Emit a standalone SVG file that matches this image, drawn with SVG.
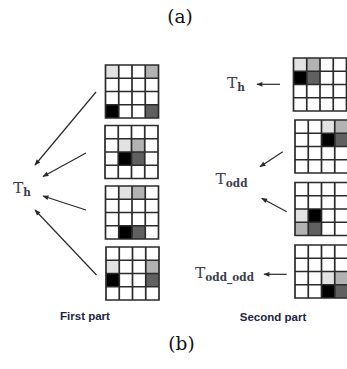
<svg xmlns="http://www.w3.org/2000/svg" xmlns:xlink="http://www.w3.org/1999/xlink" width="347" height="369" viewBox="0 0 347 369">
  <style>
    .caption { font-family: "DejaVu Serif", "Liberation Serif", serif; font-size: 18.5px; fill: #111; text-anchor: middle; }
    .sym { font-family: "DejaVu Serif", "Liberation Serif", serif; font-size: 15.5px; fill: #3d3d4d; }
    .sub { font-size: 10.5px; font-weight: bold; }
    .part { font-family: "Liberation Sans", Arial, sans-serif; font-size: 11.5px; font-weight: bold; fill: #1c2642; text-anchor: middle; }
    .arrow { stroke: #2a2a2a; stroke-width: 1.2; fill: none; marker-end: url(#head); }
    .lt { fill: #e2e2e2; }
    .md { fill: #b2b2b2; }
    .dk { fill: #606060; }
    .bk { fill: #000; }
    .lines { fill: none; stroke: #2b2b2b; stroke-width: 1.7; }
  </style>
  <defs>
    <marker id="head" viewBox="0 0 10 10" refX="9" refY="5" markerWidth="7" markerHeight="6" orient="auto" markerUnits="userSpaceOnUse">
      <path d="M0,1 L10,5 L0,9 Z" fill="#2a2a2a"/>
    </marker>
    <!-- 4x4 block outline, 13.25 px cells -->
    <path id="gridlines" class="lines" d="M0,0 H53 V53 H0 Z M13.25,0 V53 M26.5,0 V53 M39.75,0 V53 M0,13.25 H53 M0,26.5 H53 M0,39.75 H53"/>
  </defs>

  <rect width="347" height="369" fill="#fff"/>

  <text class="caption" x="180" y="23">(a)</text>
  <text class="caption" x="181.5" y="350">(b)</text>

  <!-- first part: blocks -->
  <g id="block-l1" transform="translate(105.5,65)">
    <rect class="lt" x="0" y="0" width="13.25" height="13.25"/>
    <rect class="md" x="39.75" y="0" width="13.25" height="13.25"/>
    <rect class="bk" x="0" y="39.75" width="13.25" height="13.25"/>
    <rect class="dk" x="39.75" y="39.75" width="13.25" height="13.25"/>
    <use xlink:href="#gridlines"/>
  </g>
  <g id="block-l2" transform="translate(105,125.5)">
    <rect class="lt" x="13.25" y="13.25" width="13.25" height="13.25"/>
    <rect class="md" x="26.5" y="13.25" width="13.25" height="13.25"/>
    <rect class="bk" x="13.25" y="26.5" width="13.25" height="13.25"/>
    <rect class="dk" x="26.5" y="26.5" width="13.25" height="13.25"/>
    <use xlink:href="#gridlines"/>
  </g>
  <g id="block-l3" transform="translate(105.5,186)">
    <rect class="lt" x="13.25" y="0" width="13.25" height="13.25"/>
    <rect class="md" x="26.5" y="0" width="13.25" height="13.25"/>
    <rect class="bk" x="13.25" y="39.75" width="13.25" height="13.25"/>
    <rect class="dk" x="26.5" y="39.75" width="13.25" height="13.25"/>
    <use xlink:href="#gridlines"/>
  </g>
  <g id="block-l4" transform="translate(106,247)">
    <rect class="lt" x="0" y="13.25" width="13.25" height="13.25"/>
    <rect class="md" x="39.75" y="13.25" width="13.25" height="13.25"/>
    <rect class="bk" x="0" y="26.5" width="13.25" height="13.25"/>
    <rect class="dk" x="39.75" y="26.5" width="13.25" height="13.25"/>
    <use xlink:href="#gridlines"/>
  </g>

  <g id="label-th-left">
    <text class="sym" x="13" y="193">T<tspan class="sub" dy="3">h</tspan></text>
  </g>
  <g id="label-first">
    <text class="part" x="85" y="320">First part</text>
  </g>

  <!-- second part: blocks -->
  <g id="block-r1" transform="translate(293.5,58)">
    <rect class="lt" x="0" y="0" width="13.25" height="13.25"/>
    <rect class="md" x="13.25" y="0" width="13.25" height="13.25"/>
    <rect class="bk" x="0" y="13.25" width="13.25" height="13.25"/>
    <rect class="dk" x="13.25" y="13.25" width="13.25" height="13.25"/>
    <use xlink:href="#gridlines"/>
  </g>
  <g id="block-r2" transform="translate(295,120)">
    <rect class="lt" x="26.5" y="0" width="13.25" height="13.25"/>
    <rect class="md" x="39.75" y="0" width="13.25" height="13.25"/>
    <rect class="bk" x="26.5" y="13.25" width="13.25" height="13.25"/>
    <rect class="dk" x="39.75" y="13.25" width="13.25" height="13.25"/>
    <use xlink:href="#gridlines"/>
  </g>
  <g id="block-r3" transform="translate(295,182.5)">
    <rect class="lt" x="0" y="26.5" width="13.25" height="13.25"/>
    <rect class="bk" x="13.25" y="26.5" width="13.25" height="13.25"/>
    <rect class="md" x="0" y="39.75" width="13.25" height="13.25"/>
    <rect class="dk" x="13.25" y="39.75" width="13.25" height="13.25"/>
    <use xlink:href="#gridlines"/>
  </g>
  <g id="block-r4" transform="translate(295,245)">
    <rect class="lt" x="26.5" y="26.5" width="13.25" height="13.25"/>
    <rect class="md" x="39.75" y="26.5" width="13.25" height="13.25"/>
    <rect class="bk" x="26.5" y="39.75" width="13.25" height="13.25"/>
    <rect class="dk" x="39.75" y="39.75" width="13.25" height="13.25"/>
    <use xlink:href="#gridlines"/>
  </g>

  <g id="label-th-right">
    <text class="sym" x="227" y="88">T<tspan class="sub" dy="3">h</tspan></text>
  </g>
  <g id="label-todd">
    <text class="sym" x="215.5" y="184">T<tspan class="sub" dy="3">odd</tspan></text>
  </g>
  <g id="label-toddodd">
    <text class="sym" x="195" y="278">T<tspan class="sub" dy="3">odd_odd</tspan></text>
  </g>
  <g id="label-second">
    <text class="part" x="273" y="320.5">Second part</text>
  </g>

  <!-- connectors -->
  <g id="connectors">
    <line class="arrow" x1="96" y1="92" x2="35" y2="165"/>
    <line class="arrow" x1="86" y1="153" x2="43" y2="176.5"/>
    <line class="arrow" x1="86" y1="210" x2="43" y2="196"/>
    <line class="arrow" x1="96.5" y1="275" x2="35" y2="210"/>
    <line class="arrow" x1="280" y1="84.3" x2="257" y2="84.3"/>
    <line class="arrow" x1="282.7" y1="151.7" x2="260" y2="166.7"/>
    <line class="arrow" x1="286.7" y1="211.7" x2="261.7" y2="198.3"/>
    <line class="arrow" x1="286.7" y1="274.3" x2="264" y2="274.3"/>
  </g>
</svg>
